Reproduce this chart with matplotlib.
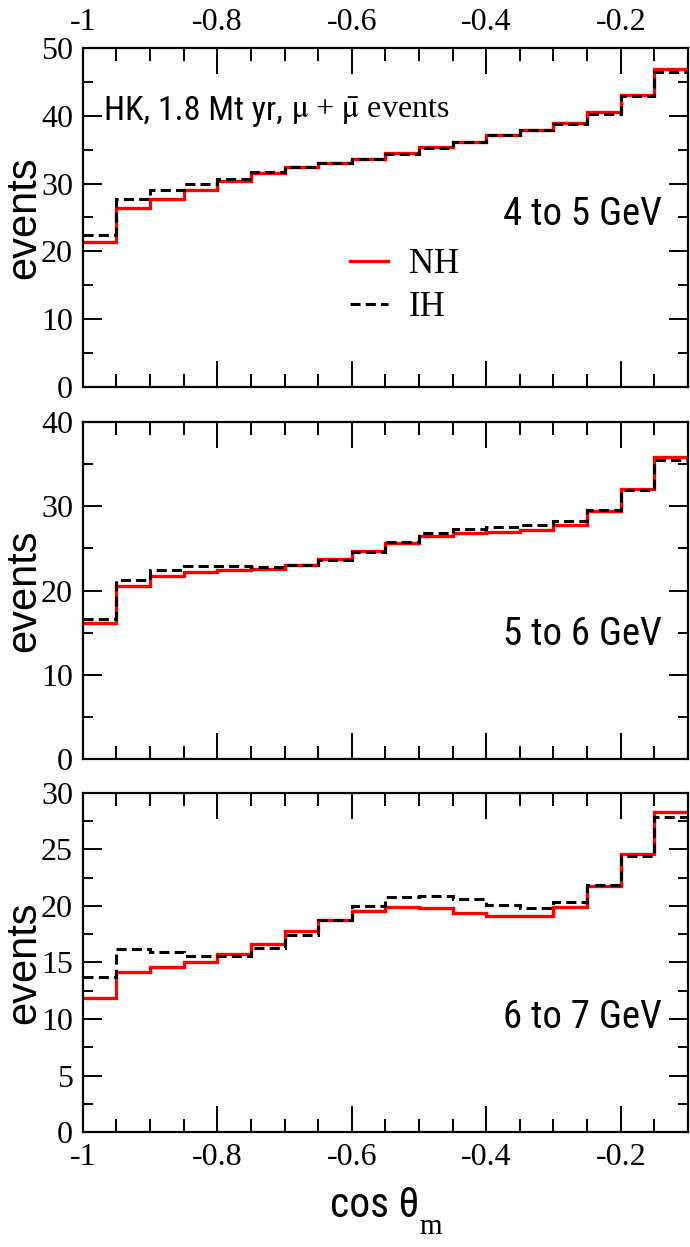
import matplotlib
matplotlib.use("Agg")
import matplotlib.pyplot as plt
from matplotlib import font_manager
import numpy as np

plt.rcParams['axes.unicode_minus'] = False
plt.rcParams['mathtext.fontset'] = 'stix'

# ---------------- data ----------------
edges = np.round(np.arange(-1.0, -0.1 + 1e-9, 0.05), 2)

nh_4_5 = [21.4, 26.35, 27.7, 29.06, 30.4, 31.5, 32.5, 33.0, 33.6, 34.5,
          35.4, 36.2, 37.1, 37.9, 38.9, 40.5, 43.1, 46.9]
ih_4_5 = [22.4, 27.7, 29.0, 29.9, 30.7, 31.7, 32.4, 33.05, 33.6, 34.4,
          35.3, 36.2, 37.1, 37.9, 38.8, 40.3, 42.9, 46.5]

nh_5_6 = [16.2, 20.5, 21.7, 22.2, 22.45, 22.6, 23.0, 23.75, 24.7, 25.6,
          26.5, 26.8, 27.0, 27.2, 27.8, 29.4, 32.1, 35.8]
ih_5_6 = [16.6, 21.2, 22.45, 22.9, 22.9, 22.8, 23.0, 23.6, 24.6, 25.7,
          26.8, 27.3, 27.5, 27.75, 28.2, 29.6, 31.9, 35.5]

nh_6_7 = [11.9, 14.2, 14.6, 15.05, 15.75, 16.65, 17.75, 18.75, 19.6, 19.95,
          19.85, 19.4, 19.1, 19.1, 19.95, 21.8, 24.6, 28.3]
ih_6_7 = [13.75, 16.2, 15.95, 15.6, 15.6, 16.25, 17.45, 18.75, 20.0, 20.8,
          20.9, 20.6, 20.1, 19.85, 20.35, 21.85, 24.4, 27.9]

energy_labels = ["4 to 5 GeV", "5 to 6 GeV", "6 to 7 GeV"]
ymax = [50, 40, 30]
ymajor = [10, 10, 5]

x_ticks = [-1.0, -0.8, -0.6, -0.4, -0.2]
x_ticklabels = ["-1", "-0.8", "-0.6", "-0.4", "-0.2"]

series_nh = [nh_4_5, nh_5_6, nh_6_7]
series_ih = [ih_4_5, ih_5_6, ih_6_7]

# ---------------- fonts ----------------
def has_font(name):
    try:
        font_manager.findfont(font_manager.FontProperties(family=name),
                              fallback_to_default=False)
        return True
    except Exception:
        return False

SERIF = ['Liberation Serif', 'DejaVu Serif']
SANS = ['Liberation Sans', 'DejaVu Sans']
narrow_found = None
for cand in ['Liberation Sans Narrow', 'Arial Narrow', 'Roboto Condensed']:
    if has_font(cand):
        narrow_found = cand
        break
if narrow_found:
    NARROW = [narrow_found] + SANS
    e_size, hk_size, cos_size = 28, 24.5, 30
else:
    NARROW = SANS
    e_size, hk_size, cos_size = 25, 22, 27

# ---------------- layout ----------------
fig = plt.figure(figsize=(6.9, 12.47), dpi=100)
positions = [(0.120, 0.6897, 0.877, 0.2718),
             (0.120, 0.3913, 0.877, 0.2703),
             (0.120, 0.0922, 0.877, 0.2719)]
label_y = [0.478, 0.338, 0.307]

for i, pos in enumerate(positions):
    ax = fig.add_axes(pos)
    ax.stairs(series_nh[i], edges, baseline=None, color='#ff0000', lw=2.4,
              label='NH', zorder=2)
    ax.stairs(series_ih[i], edges, baseline=None, color='black', lw=2.2,
              linestyle=(0, (3.3, 1.7)), label='IH', zorder=3)
    ax.set_xlim(-1.0, -0.1)
    ax.set_ylim(0, ymax[i])
    ax.set_xticks(x_ticks)
    ax.set_xticks(edges[1:-1], minor=True)
    yt = list(range(0, ymax[i] + 1, ymajor[i]))
    ax.set_yticks(yt)
    ax.set_yticklabels([str(v) for v in yt])
    ax.set_yticks(np.arange(0, ymax[i] + 0.01, ymajor[i] / 2), minor=True)
    for s in ax.spines.values():
        s.set_linewidth(1.6)
    ax.tick_params(axis='x', which='major', direction='in', length=19, width=1.4,
                   top=True, bottom=True, pad=8)
    ax.tick_params(axis='x', which='minor', direction='in', length=9.5, width=1.4,
                   top=True, bottom=True)
    ax.tick_params(axis='y', which='major', direction='in', length=13.5, width=1.4,
                   left=True, right=True, pad=7)
    ax.tick_params(axis='y', which='minor', direction='in', length=7, width=1.4,
                   left=True, right=True)
    ax.set_xticklabels(x_ticklabels)
    if i == 0:
        ax.tick_params(axis='x', which='both', labeltop=True, labelbottom=False)
    elif i == 1:
        ax.tick_params(axis='x', which='both', labeltop=False, labelbottom=False)
    for lab in ax.get_xticklabels() + ax.get_yticklabels():
        lab.set_family(SERIF)
        lab.set_fontsize(23)

    ax.text(-0.0975, 0.5, 'events', rotation=90, ha='center', va='center',
            transform=ax.transAxes, family=SANS, fontsize=30)
    ax.text(0.957, label_y[i], energy_labels[i], ha='right', va='baseline',
            transform=ax.transAxes, family=NARROW, fontsize=e_size)

    if i == 0:
        t1 = ax.text(0.035, 0.788, 'HK, 1.8 Mt yr, ', ha='left', va='baseline',
                     transform=ax.transAxes, family=NARROW, fontsize=hk_size)
        ax.annotate(r'$\mathrm{\mu}$ + $\bar{\mathrm{\mu}}$ events', xy=(1, 0),
                    xycoords=t1, ha='left', va='bottom', family=SERIF,
                    fontsize=23)
        ax.legend(loc='center left', bbox_to_anchor=(0.39, 0.298), frameon=False,
                  handlelength=1.1, handletextpad=0.6, labelspacing=0.3,
                  prop={'family': SERIF, 'size': 25})
    if i == 2:
        t2 = ax.text(0.482, -0.25, 'cos θ', ha='center', va='baseline',
                     transform=ax.transAxes, family=NARROW, fontsize=cos_size)
        ax.annotate('m', xy=(1, 0), xycoords=t2, xytext=(0, -6),
                    textcoords='offset points', ha='left', va='baseline',
                    family=SERIF, fontsize=21)

fig.savefig('out.png', dpi=100)
